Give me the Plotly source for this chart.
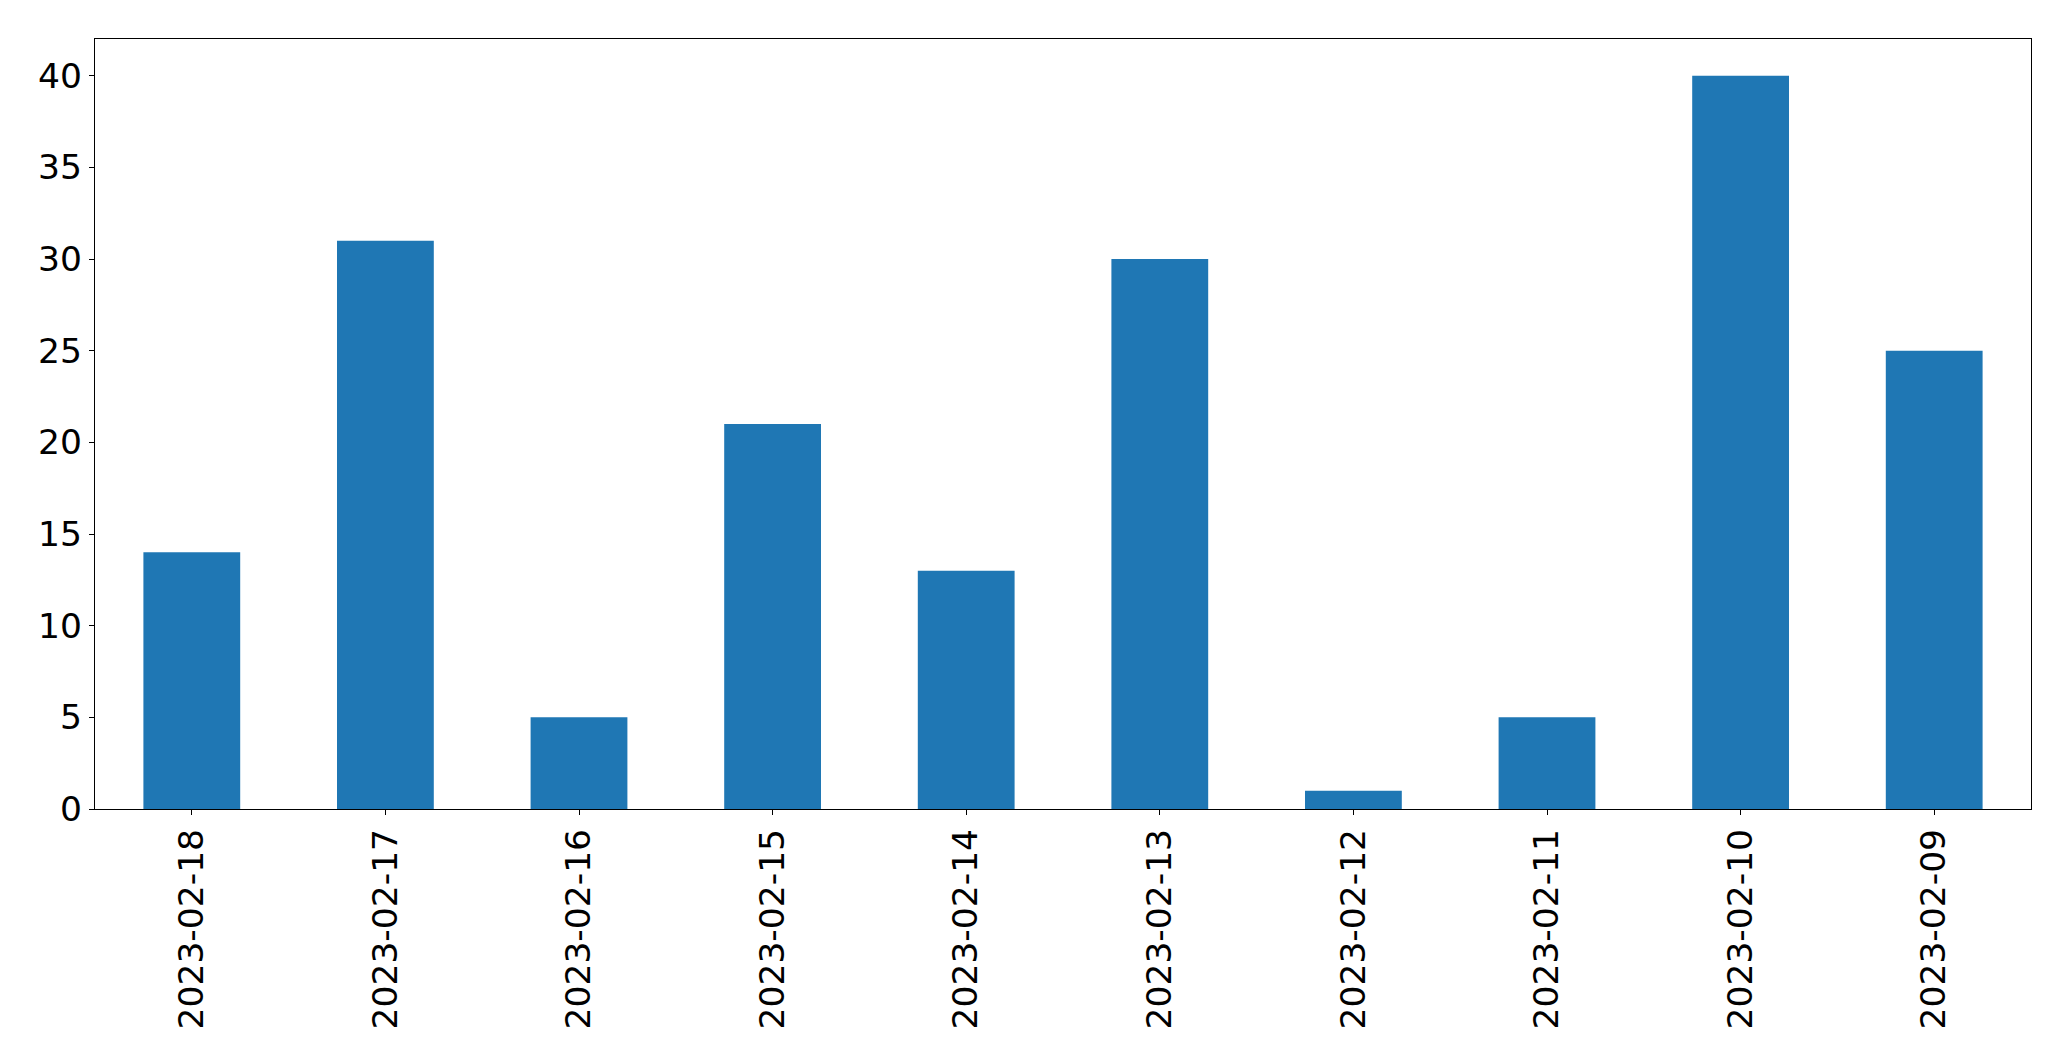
import plotly.graph_objects as go

dates = ["2023-02-18", "2023-02-17", "2023-02-16", "2023-02-15", "2023-02-14",
         "2023-02-13", "2023-02-12", "2023-02-11", "2023-02-10", "2023-02-09"]
counts = [14, 31, 5, 21, 13, 30, 1, 5, 40, 25]
y_ticks = [0, 5, 10, 15, 20, 25, 30, 35, 40]

fig = go.Figure(go.Bar(x=dates, y=counts, marker=dict(color="#1f77b4", line=dict(width=0)), width=0.5))

axis_common = dict(showline=True, linecolor="black", linewidth=1.3, mirror=True,
                   ticks="outside", ticklen=5, tickwidth=1.3, tickcolor="black",
                   showgrid=False, zeroline=False, automargin=False,
                   tickfont=dict(family="DejaVu Sans", size=34.5, color="black"))

fig.update_layout(
    width=2071, height=1061,
    margin=dict(l=95, r=40, t=39, b=252),
    paper_bgcolor="white", plot_bgcolor="white",
    showlegend=False,
    xaxis=dict(type="category", range=[-0.5, 9.5], tickangle=-90, **axis_common),
    yaxis=dict(range=[0, 42], tickvals=y_ticks, **axis_common),
)

fig.write_html("out.html", config={"displayModeBar": False},
               post_script="document.body.style.margin='0';")
